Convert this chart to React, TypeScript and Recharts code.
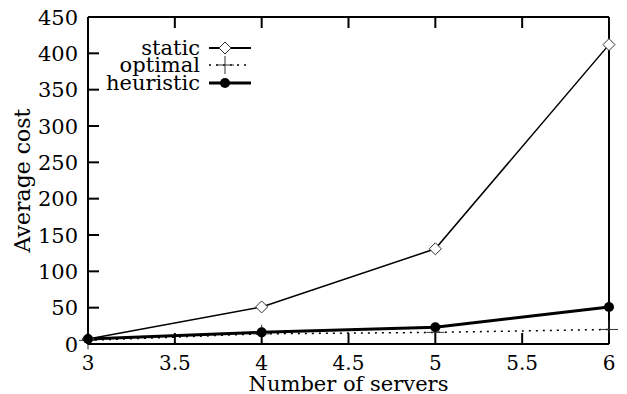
import React from "react";
import {
  LineChart,
  Line,
  XAxis,
  YAxis,
  Legend,
  Label,
} from "recharts";

const servers = [3, 4, 5, 6];
const staticCost = [7, 51, 131, 412];
const optimalCost = [5, 14, 16, 20];
const heuristicCost = [7, 16, 23, 51];

const xTicks = [3, 3.5, 4, 4.5, 5, 5.5, 6];
const yTicks = [0, 50, 100, 150, 200, 250, 300, 350, 400, 450];
const seriesNames = ["static", "optimal", "heuristic"];

const data = servers.map((x, i) => ({
  x,
  static: staticCost[i],
  optimal: optimalCost[i],
  heuristic: heuristicCost[i],
}));

const FONT = "'DejaVu Serif', serif";
const TICK_LEN = 11;

const Diamond = ({ cx, cy }: any) => (
  <path
    d={`M${cx},${cy - 6}L${cx + 6},${cy}L${cx},${cy + 6}L${cx - 6},${cy}Z`}
    fill="white"
    stroke="#333"
    strokeWidth={1}
  />
);

const Plus = ({ cx, cy }: any) => (
  <path
    d={`M${cx - 9},${cy}H${cx + 9}M${cx},${cy - 9}V${cy + 9}`}
    stroke="#333"
    strokeWidth={1}
    fill="none"
  />
);

const Dot = ({ cx, cy }: any) => <circle cx={cx} cy={cy} r={5} fill="black" />;

// gnuplot style: tick marks point inward, labels outside
const BottomTick = ({ x, y, payload }: any) => (
  <g>
    <line x1={x} x2={x} y1={y - 11} y2={y - 11 - TICK_LEN} stroke="#000" strokeWidth={2} />
    <text x={x} y={y} dy="0.75em" textAnchor="middle" fontFamily={FONT} fontSize={20} fill="black">
      {payload.value}
    </text>
  </g>
);

const LeftTick = ({ x, y, payload }: any) => (
  <g>
    <line x1={x + 10} x2={x + 10 + TICK_LEN} y1={y} y2={y} stroke="#000" strokeWidth={2} />
    <text x={x} y={y} dy="0.36em" textAnchor="end" fontFamily={FONT} fontSize={21} fill="black">
      {payload.value}
    </text>
  </g>
);

const TopTick = ({ x, y }: any) => (
  <line x1={x} x2={x} y1={y} y2={y + TICK_LEN} stroke="#000" strokeWidth={2} />
);

const RightTick = ({ x, y }: any) => (
  <line x1={x} x2={x - TICK_LEN} y1={y} y2={y} stroke="#000" strokeWidth={2} />
);

const renderLegend = () => {
  const rows = [
    { y: 48, dash: undefined, width: 2, Marker: Diamond },
    { y: 65, dash: "2 5", width: 1.5, Marker: Plus },
    { y: 83, dash: undefined, width: 3, Marker: Dot },
  ];
  return (
    <svg width={260} height={100} style={{ display: "block" }}>
      {rows.map((r, i) => (
        <g key={seriesNames[i]}>
          <text
            x={200}
            y={r.y}
            dy="0.35em"
            textAnchor="end"
            fontFamily={FONT}
            fontSize={21}
            fill="black"
          >
            {seriesNames[i]}
          </text>
          <line
            x1={209}
            x2={251}
            y1={r.y}
            y2={r.y}
            stroke="black"
            strokeWidth={r.width}
            strokeDasharray={r.dash}
          />
          <r.Marker cx={225} cy={r.y} />
        </g>
      ))}
    </svg>
  );
};

export default function App() {
  return (
    <div style={{ position: "absolute", left: 0, top: 0, background: "white" }}>
      <LineChart
        width={627}
        height={394}
        data={data}
        margin={{ top: 16, right: 17, left: 0, bottom: 0 }}
      >
        <XAxis
          xAxisId={0}
          dataKey="x"
          type="number"
          domain={[3, 6]}
          ticks={xTicks}
          height={50}
          tickSize={0}
          tickMargin={11}
          tickLine={false}
          stroke="black"
          strokeWidth={2}
          tick={<BottomTick />}
          interval={0}
        >
          <Label
            value="Number of servers"
            position="insideBottom"
            offset={3}
            style={{ fontSize: 21, fill: "black", fontFamily: FONT }}
          />
        </XAxis>
        <XAxis
          xAxisId={1}
          orientation="top"
          dataKey="x"
          type="number"
          domain={[3, 6]}
          ticks={xTicks}
          height={1}
          tickSize={0}
          tickMargin={0}
          tickLine={false}
          stroke="black"
          strokeWidth={2}
          tick={<TopTick />}
          interval={0}
        />
        <YAxis
          yAxisId={0}
          type="number"
          domain={[0, 450]}
          ticks={yTicks}
          width={88}
          tickSize={0}
          tickMargin={10}
          tickLine={false}
          stroke="black"
          strokeWidth={2}
          tick={<LeftTick />}
          interval={0}
        >
          <Label
            value="Average cost"
            angle={-90}
            position="center"
            dx={-22}
            style={{ fontSize: 22, fill: "black", fontFamily: FONT, textAnchor: "middle" }}
          />
        </YAxis>
        <YAxis
          yAxisId={1}
          orientation="right"
          type="number"
          domain={[0, 450]}
          ticks={yTicks}
          width={1}
          tickSize={0}
          tickMargin={0}
          tickLine={false}
          stroke="black"
          strokeWidth={2}
          tick={<RightTick />}
          interval={0}
        />
        <Legend
          layout="vertical"
          align="center"
          verticalAlign="middle"
          content={renderLegend}
          wrapperStyle={{ left: 0, top: 0, width: 260, height: 100 }}
        />
        <Line
          xAxisId={0}
          yAxisId={0}
          type="linear"
          dataKey="static"
          stroke="black"
          strokeWidth={1.5}
          dot={<Diamond />}
          activeDot={false}
          isAnimationActive={false}
        />
        <Line
          xAxisId={0}
          yAxisId={0}
          type="linear"
          dataKey="optimal"
          stroke="black"
          strokeWidth={1.5}
          strokeDasharray="2 5"
          dot={<Plus />}
          activeDot={false}
          isAnimationActive={false}
        />
        <Line
          xAxisId={0}
          yAxisId={0}
          type="linear"
          dataKey="heuristic"
          stroke="black"
          strokeWidth={3}
          dot={<Dot />}
          activeDot={false}
          isAnimationActive={false}
        />
      </LineChart>
    </div>
  );
}
